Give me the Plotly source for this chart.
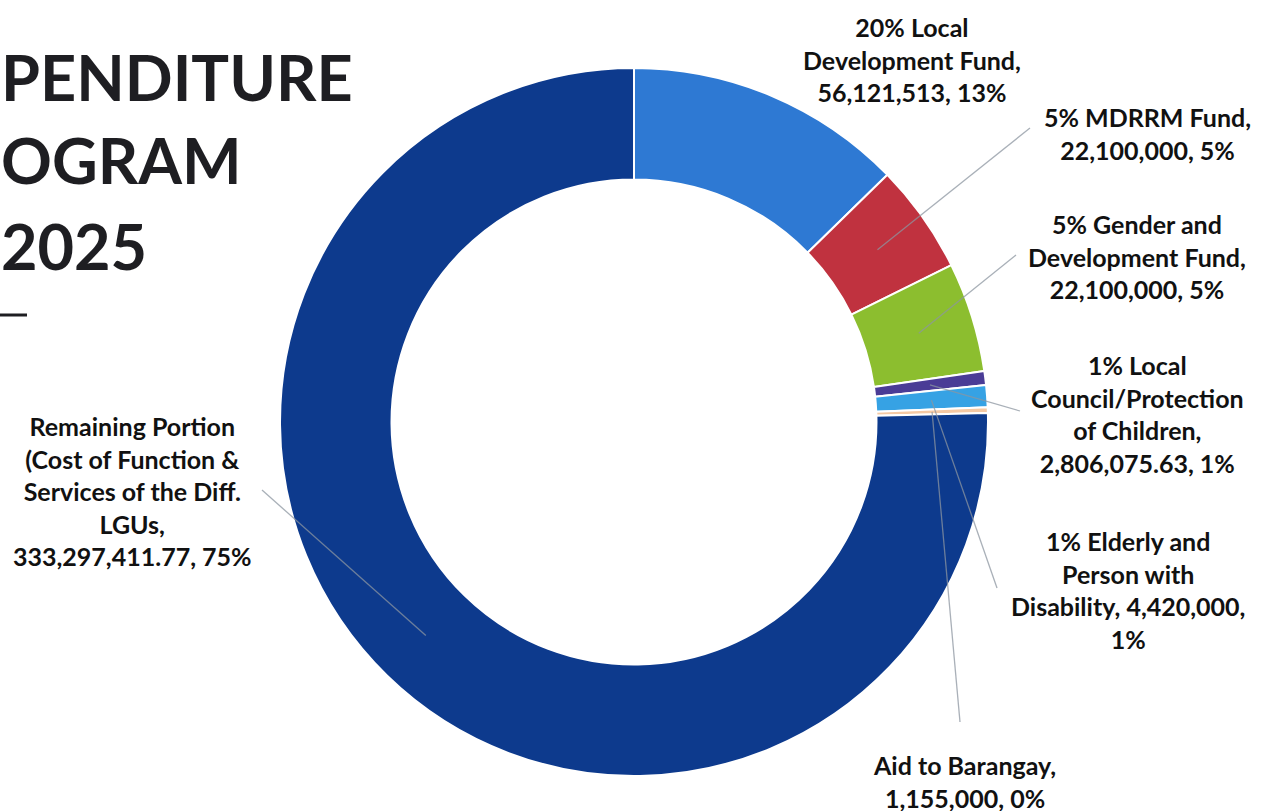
import math
import plotly.graph_objects as go

W, H = 1272, 811

# ---- data ----
labels = [
    "20% Local Development Fund",
    "5% MDRRM Fund",
    "5% Gender and Development Fund",
    "1% Local Council/Protection of Children",
    "1% Elderly and Person with Disability",
    "Aid to Barangay",
    "Remaining Portion (Cost of Function & Services of the Diff. LGUs",
]
values = [56121513, 22100000, 22100000, 2806075.63, 4420000, 1155000, 333297411.77]
colors = ["#2E79D3", "#C0323F", "#8CBE2F", "#4A3C96", "#36A2E4", "#F4C9A4", "#0D3A8D"]
label_text = [
    "20% Local<br>Development Fund,<br>56,121,513, 13%",
    "5% MDRRM Fund,<br>22,100,000, 5%",
    "5% Gender and<br>Development Fund,<br>22,100,000, 5%",
    "1% Local<br>Council/Protection<br>of Children,<br>2,806,075.63, 1%",
    "1% Elderly and<br>Person with<br>Disability, 4,420,000,<br>1%",
    "Aid to Barangay,<br>1,155,000, 0%",
    "Remaining Portion<br>(Cost of Function &amp;<br>Services of the Diff.<br>LGUs,<br>333,297,411.77, 75%",
]
title_lines = ["PENDITURE", "OGRAM", "2025"]

# ---- layout (pixels) ----
cx, cy, R = 634, 422, 354
hole = 0.685
label_pos = [(912, 59), (1147, 133), (1137, 256), (1137, 414), (1128, 590), (964, 781), (132, 491)]
leader_end = [None, (1030, 128), (1016, 255), (1020, 411), (997, 588), (960, 722), (262, 490)]
title_pos = [(0, 76), (0, 160), (0, 245)]

def px2paper(x, y):
    return x / W, 1 - y / H

fig = go.Figure(go.Pie(
    labels=labels, values=values, sort=False, direction="clockwise", rotation=0,
    hole=hole, textinfo="none",
    marker=dict(colors=colors, line=dict(color="white", width=2)),
    domain=dict(x=[(cx - R) / W, (cx + R) / W], y=[1 - (cy + R) / H, 1 - (cy - R) / H]),
    showlegend=False,
))

annotations = []
shapes = []
total = sum(values)
cum = 0.0
rmid = R * (1 + hole) / 2
for i, v in enumerate(values):
    mid = (cum + v / 2) / total * 2 * math.pi
    cum += v
    tx, ty = label_pos[i]
    px, py = px2paper(tx, ty)
    annotations.append(dict(
        x=px, y=py, xref="paper", yref="paper", text="<b>" + label_text[i] + "</b>", showarrow=False,
        xanchor="center", yanchor="middle", align="center",
        font=dict(family="Lato, Noto Sans, sans-serif", size=25, color="#111111"),
    ))
    if leader_end[i] is not None:
        sx = cx + rmid * math.sin(mid)
        sy = cy - rmid * math.cos(mid)
        x0, y0 = px2paper(sx, sy)
        x1, y1 = px2paper(*leader_end[i])
        shapes.append(dict(type="line", xref="paper", yref="paper", x0=x0, y0=y0, x1=x1, y1=y1,
                           line=dict(color="rgba(140,150,160,0.75)", width=1.3)))

for t, (tx, ty) in zip(title_lines, title_pos):
    px, py = px2paper(tx, ty)
    annotations.append(dict(
        x=px, y=py, xref="paper", yref="paper", text="<b>" + t + "</b>", showarrow=False,
        xanchor="left", yanchor="middle", borderpad=0,
        font=dict(family="Lato, sans-serif", size=63, color="#1e1e22"),
    ))

# short decorative rule under the title
a0, b0 = px2paper(0, 315)
a1, b1 = px2paper(27, 315)
shapes.append(dict(type="line", xref="paper", yref="paper", x0=a0, y0=b0, x1=a1, y1=b1,
                   line=dict(color="#1e1e22", width=3)))

fig.update_layout(
    width=W, height=H, margin=dict(l=0, r=0, t=0, b=0),
    paper_bgcolor="white", plot_bgcolor="white",
    annotations=annotations, shapes=shapes,
    font=dict(family="Lato, sans-serif"),
)

fig.write_html("out.html")
